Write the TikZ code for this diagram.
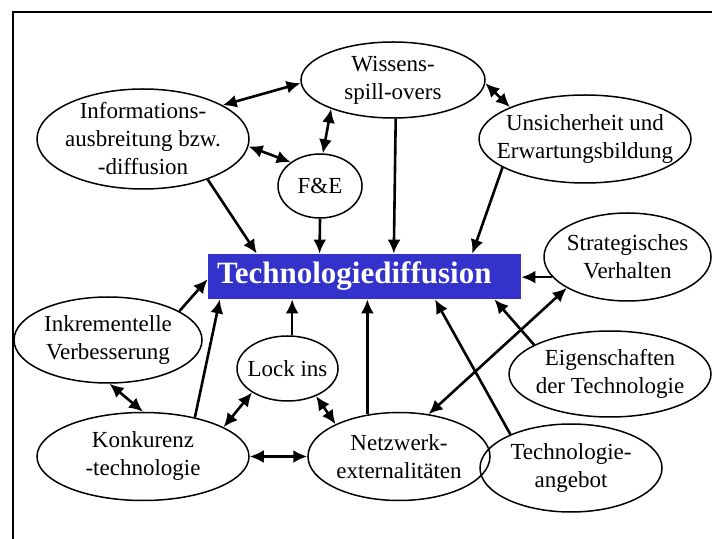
\documentclass[tikz,border=0pt]{standalone}
\usepackage{fontspec}
\setmainfont{Liberation Serif}
\usetikzlibrary{shapes.geometric,arrows.meta}

\definecolor{diffblue}{RGB}{51,51,204}

\tikzset{
  bubble/.style 2 args={ellipse,draw,line width=.75pt,minimum width=#1,minimum height=#2,inner sep=0pt},
  txt/.style={align=center,inner sep=0pt,font=\fontsize{11.5}{14}\selectfont},
  techbox/.style={fill=diffblue,text=white,font=\bfseries\fontsize{15.5}{18}\selectfont,
    text width=147.5pt,align=left,inner xsep=4.5pt,inner ysep=0pt,minimum height=22.5pt},
  link/.style={line width=1.3pt,-{Latex[length=7pt,width=6.5pt]}},
  both/.style={line width=1.3pt,{Latex[length=7pt,width=6.5pt]}-{Latex[length=7pt,width=6.5pt]}}
}

\begin{document}
\begin{tikzpicture}[x=0.5pt,y=-0.5pt]
     \useasboundingbox (0,0) rectangle (712,539);
     % open frame
     \draw[line width=1.2pt] (13,539) -- (13,12) -- (712,12);

     \node[techbox] (tech) at (364.5,276.5) {Technologiediffusion};

     \node[bubble={92pt}{38pt},label={[txt]center:Wissens-\\spill-overs}] (wiss) at (393,80) {};
     \node[bubble={106pt}{50pt},label={[txt]center:Informations-\\ausbreitung bzw.\\-diffusion}] (info) at (143,139) {};
     \node[bubble={42pt}{32pt},label={[txt]center:F\&E}] (fe) at (320,186) {};
     \node[bubble={106pt}{44pt},label={[txt]center:Unsicherheit und\\Erwartungsbildung}] (unsi) at (585,139) {};
     \node[bubble={83.5pt}{44pt},label={[txt]center:Strategisches\\Verhalten}] (strat) at (627.5,257) {};
     \node[bubble={94pt}{43pt},label={[txt]center:Inkrementelle\\Verbesserung}] (inkr) at (108,340) {};
     \node[bubble={50.5pt}{32.5pt},label={[txt]center:Lock ins}] (lock) at (287.5,368.5) {};
     \node[bubble={101pt}{43pt},label={[txt]center:Eigenschaften\\der Technologie}] (eigen) at (610,374) {};
     \node[bubble={106pt}{44pt},label={[txt]center:Konkurenz\\-technologie}] (konk) at (143,456.5) {};
     \node[bubble={91pt}{44pt},label={[txt]center:Netzwerk-\\externalitäten}] (netz) at (399,456.5) {};
     \node[bubble={91pt}{44pt},label={[txt]center:Technologie-\\angebot}] (angebot) at (571,468) {};

     % mutual influences
     \draw[both] (info.23) -- (wiss.182);
     \draw[both] (info.356) -- (fe.141);
     \draw[both] (wiss.205) -- (fe.85);
     \draw[both] (wiss.358) -- (unsi.157.5);
     \draw[both] (netz.55) -- (strat.207.7);
     \draw[both] (inkr.272.5) -- (konk.90);
     \draw[both] (konk.20) -- (lock.214.6);
     \draw[both] (lock.316) -- (netz.153.4);
     \draw[both] (konk.east) -- (netz.west);

     % everything feeds the diffusion box
     \draw[link] (info.328) -- (tech.168.6);
     \draw[link] (fe.270) -- (tech.153.7);
     \draw[link] (wiss.274.5) -- (tech.38.7);
     \draw[link] (unsi.199.7) -- (tech.12);
     \draw[link] (strat.195.5) -- (strat.195.5 -| tech.east);
     \draw[link] (inkr.22) -- (tech.181.3);
     \draw[link] (konk.37) -- (tech.189);
     \draw[link] (lock.82) -- (lock.82 |- tech.south);
     \draw[link] (netz.127) -- (netz.127 |- tech.south);
     \draw[link] (angebot.151.6) -- (tech.342.7);
     \draw[link] (eigen.159.6) -- (tech.350.4);
\end{tikzpicture}
\end{document}
